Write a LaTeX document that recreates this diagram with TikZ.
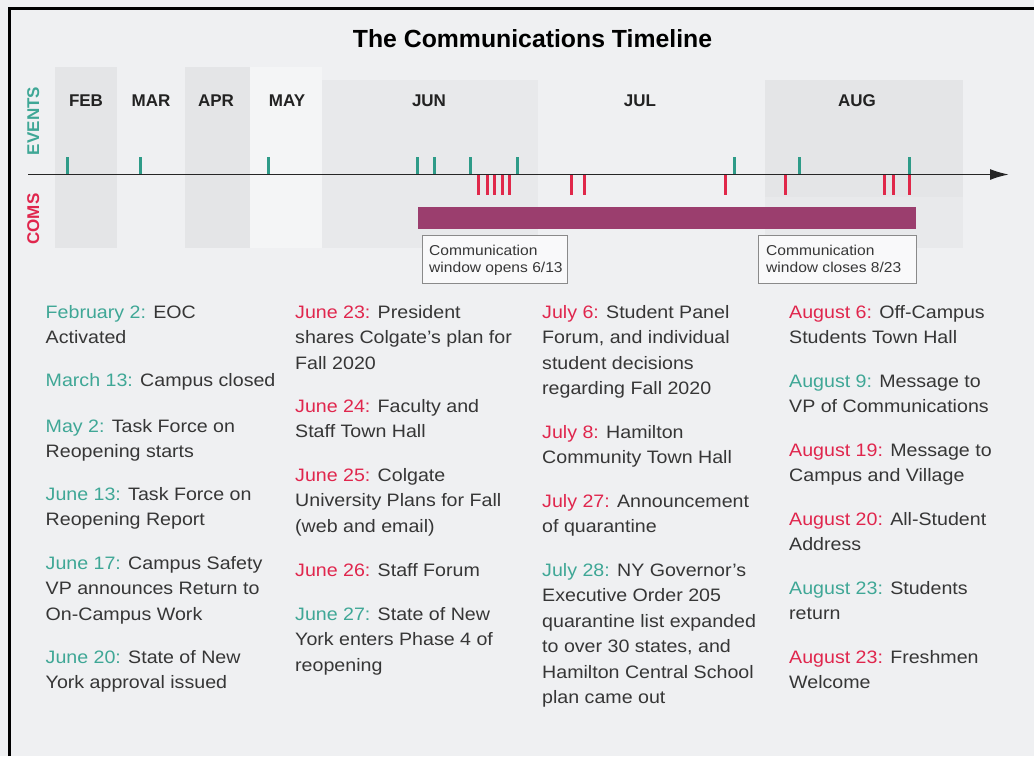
\documentclass[tikz,border=0pt]{standalone}
\usepackage{fontspec}
\setmainfont{Liberation Sans}
\newfontfamily\bodyfont[FakeStretch=1.09]{Liberation Sans}
\usetikzlibrary{arrows.meta}
\definecolor{bgc}{HTML}{EFF0F2}
\definecolor{banddark}{HTML}{E4E5E7}
\definecolor{bandmid}{HTML}{E8E9EB}
\definecolor{bandlight}{HTML}{F4F5F6}
\definecolor{tealc}{HTML}{3FA796}
\definecolor{tealtick}{HTML}{2E9B88}
\definecolor{redc}{HTML}{E0264D}
\definecolor{redtick}{HTML}{E0284A}
\definecolor{barc}{HTML}{9B3E6E}
\definecolor{bodyc}{HTML}{363636}
\definecolor{monthc}{HTML}{222222}
\definecolor{boxline}{HTML}{8A8A8A}
\newcommand\entrynode[6]{\node[entry] (#3) at (#1,#2) {\parbox[t]{250pt}{\raggedright\leavevmode{\color{#4}#5} #6}};}
\begin{document}
\begin{tikzpicture}[x=1pt,y=-1pt,
  month/.style={font=\fontsize{17}{20}\selectfont\bfseries, text=monthc, anchor=base, inner sep=0},
  side/.style={font=\fontsize{17}{20}\selectfont\bfseries, rotate=90, anchor=base, inner sep=0},
  entry/.style={anchor=base west, inner sep=0, font=\bodyfont\fontsize{18}{25.5}\selectfont, text=bodyc},
  callbox/.style={draw=boxline, line width=1pt, fill=white!60!bgc, inner sep=0, minimum height=48pt, anchor=north west},
  calltext/.style={anchor=base west, inner sep=0, font=\bodyfont\fontsize{14.3}{17}\selectfont, text=bodyc},
  evtick/.style={draw=tealtick, line width=3pt},
  comtick/.style={draw=redtick, line width=3pt},
  axisline/.style={draw=black!85, line width=1.8pt, -{Latex[length=19pt,width=11pt]}}
]
\useasboundingbox (0,0) rectangle (1034,756);
\fill[bgc] (0,0) rectangle (1034,756);
% month bands
\fill[banddark] (55,67) rectangle (117,248);
\fill[banddark] (185,67) rectangle (250,248);
\fill[bandlight] (250,67) rectangle (322,248);
\fill[bandmid] (322,80) rectangle (538,248);
\fill[banddark] (765,80) rectangle (963,197);
\fill[bandmid] (765,197) rectangle (963,248);
% frame
\draw[line width=3pt] (9.7,756) -- (9.7,8) -- (1034,8);
% title
\node[font=\fontsize{24.8}{28}\selectfont\bfseries, anchor=base, inner sep=0, text=black] (title) at (532.5,47) {The Communications Timeline};
% months
\node[month] (feb) at (86,106) {FEB};
\node[month] (mar) at (151,106) {MAR};
\node[month] (apr) at (216,106) {APR};
\node[month] (may) at (287,106) {MAY};
\node[month] (jun) at (429,106) {JUN};
\node[month] (jul) at (640,106) {JUL};
\node[month] (aug) at (857,106) {AUG};
% side labels
\node[side, text=tealc] (events) at (39,121) {EVENTS};
\node[side, text=redc] (coms) at (39,219) {COMS};
% window bar
\node[fill=barc, minimum width=498pt, minimum height=22pt, inner sep=0] (window) at (667,218) {};
% axis
\coordinate (axs) at (28,174.5);
\coordinate (axe) at (1009,174.5);
\foreach \x in {67,140,268,417,434,470,517,734,799,909}
  \draw[evtick] (\x,157) -- (\x,174);
\foreach \x in {478,487,494,502,509,571,584,725,785,884,893,909}
  \draw[comtick] (\x,175) -- (\x,195);
\draw[axisline] (axs) -- (axe);
% callouts
\node[callbox, minimum width=145.5pt] (opens) at (421.5,234.5) {};
\node[calltext] (openstext) at (429,255) {\parbox[t]{150pt}{\raggedright Communication\\window opens 6/13}};
\node[callbox, minimum width=157.5pt] (closes) at (758,234.5) {};
\node[calltext] (closestext) at (766,255) {\parbox[t]{150pt}{\raggedright Communication\\window closes 8/23}};
% column 1
\entrynode{45.5}{318}{e1}{tealc}{February 2:}{EOC\\Activated}
\entrynode{45.5}{386}{e2}{tealc}{March 13:}{Campus closed}
\entrynode{45.5}{432}{e3}{tealc}{May 2:}{Task Force on\\Reopening starts}
\entrynode{45.5}{500}{e4}{tealc}{June 13:}{Task Force on\\Reopening Report}
\entrynode{45.5}{569}{e5}{tealc}{June 17:}{Campus Safety\\VP announces Return to\\On-Campus Work}
\entrynode{45.5}{663}{e6}{tealc}{June 20:}{State of New\\York approval issued}
% column 2
\entrynode{295}{318}{e7}{redc}{June 23:}{President\\shares Colgate’s plan for\\Fall 2020}
\entrynode{295}{412}{e8}{redc}{June 24:}{Faculty and\\Staff Town Hall}
\entrynode{295}{481}{e9}{redc}{June 25:}{Colgate\\University Plans for Fall\\(web and email)}
\entrynode{295}{576}{e10}{redc}{June 26:}{Staff Forum}
\entrynode{295}{620}{e11}{tealc}{June 27:}{State of New\\York enters Phase 4 of\\reopening}
% column 3
\entrynode{542}{318}{e12}{redc}{July 6:}{Student Panel\\Forum, and individual\\student decisions\\regarding Fall 2020}
\entrynode{542}{438}{e13}{redc}{July 8:}{Hamilton\\Community Town Hall}
\entrynode{542}{507}{e14}{redc}{July 27:}{Announcement\\of quarantine}
\entrynode{542}{576}{e15}{tealc}{July 28:}{NY Governor’s\\Executive Order 205\\quarantine list expanded\\to over 30 states, and\\Hamilton Central School\\plan came out}
% column 4
\entrynode{789}{318}{e16}{redc}{August 6:}{Off-Campus\\Students Town Hall}
\entrynode{789}{387}{e17}{tealc}{August 9:}{Message to\\VP of Communications}
\entrynode{789}{456}{e18}{redc}{August 19:}{Message to\\Campus and Village}
\entrynode{789}{525}{e19}{redc}{August 20:}{All-Student\\Address}
\entrynode{789}{594}{e20}{tealc}{August 23:}{Students\\return}
\entrynode{789}{663}{e21}{redc}{August 23:}{Freshmen\\Welcome}
\end{tikzpicture}
\end{document}
